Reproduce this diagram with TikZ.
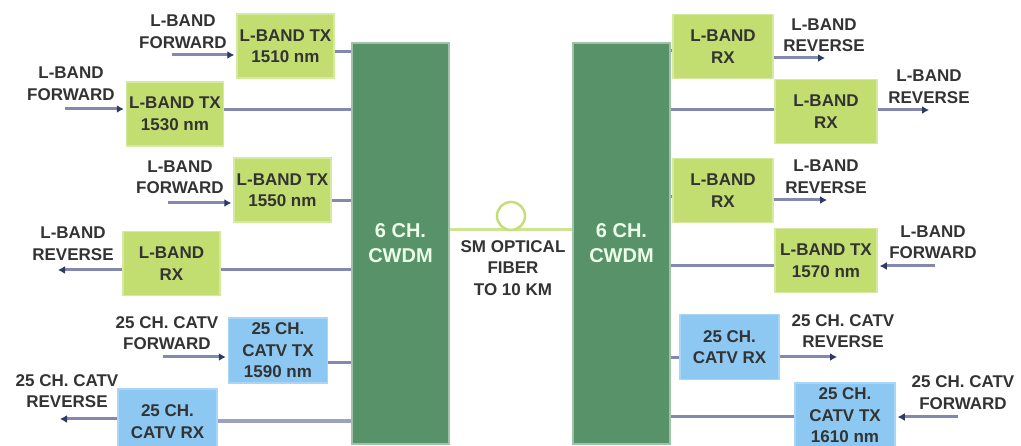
\documentclass[tikz,border=0pt]{standalone}
\usepackage{fontspec}
\setmainfont{Liberation Sans}
\usetikzlibrary{arrows.meta}
\definecolor{GreenBox}{HTML}{C2DE70}
\definecolor{GreenEdge}{HTML}{D6E9A0}
\definecolor{BlueBox}{HTML}{8CC8F2}
\definecolor{BlueEdge}{HTML}{A9D6F6}
\definecolor{CWDMfill}{HTML}{589268}
\definecolor{CWDMedge}{HTML}{9FC2A8}
\definecolor{LineCol}{HTML}{8488AE}
\definecolor{TipCol}{HTML}{2E3A66}
\definecolor{TextCol}{HTML}{333333}
\definecolor{FiberCol}{HTML}{CFE492}
\definecolor{RingCol}{HTML}{C4DF78}
\tikzset{
  txt/.style={font=\fontsize{17}{21.5}\selectfont\bfseries, text=TextCol, align=center, inner sep=0pt},
  gbox/.style={txt, draw=GreenEdge, fill=GreenBox, line width=1.5pt, minimum width=97pt, minimum height=64pt},
  bbox/.style={txt, draw=BlueEdge, fill=BlueBox, line width=1.5pt, minimum width=99pt, minimum height=65pt},
  cwdm/.style={draw=CWDMedge, fill=CWDMfill, line width=1.5pt, minimum width=97pt, minimum height=401pt,
    font=\fontsize{20}{25}\selectfont\bfseries, text=white!92!green, align=center, inner sep=0pt},
  lbl/.style={txt},
  wire/.style={draw=LineCol, line width=3pt},
  sig/.style={draw=LineCol, line width=3pt, -{Latex[length=7pt,width=8pt,color=TipCol]}, shorten >=2pt},
}
\begin{document}
\begin{tikzpicture}[x=1pt,y=-1pt]
\clip (0,0) rectangle (1021,446);
\fill[white] (0,0) rectangle (1021,446);

% CWDM blocks
\node[cwdm] (cwl) at (400.5,243.5) {6 CH.\\CWDM};
\node[cwdm] (cwr) at (621.5,243.5) {6 CH.\\CWDM};

% fiber
\draw[FiberCol, line width=3pt] (cwl.east |- 0,230) -- (cwr.west |- 0,230);
\node[circle, draw=RingCol, fill=white, line width=2.5pt, minimum size=28pt, inner sep=0pt] (ring) at (511,216) {};
\node[txt] (fib) at (513,268) {SM OPTICAL\\FIBER\\TO 10 KM};

% ---------------- left side ----------------
\node[gbox] (lt1) at (285.5,46) {L-BAND TX\\1510 nm};
\node[gbox] (lt2) at (175,114) {L-BAND TX\\1530 nm};
\node[gbox] (lt3) at (282.5,190) {L-BAND TX\\1550 nm};
\node[gbox] (lr1) at (171.5,263.5) {L-BAND\\RX};
\node[bbox] (lc1) at (278,350.5) {25 CH.\\CATV TX\\1590 nm};
\node[bbox] (lc2) at (167.5,421.5) {25 CH.\\CATV RX};

\node[lbl] (llt1) at (183,31.5) {L-BAND\\FORWARD};
\node[lbl] (llt2) at (71,83.5) {L-BAND\\FORWARD};
\node[lbl] (llt3) at (180,177) {L-BAND\\FORWARD};
\node[lbl] (llr1) at (73,243.5) {L-BAND\\REVERSE};
\node[lbl] (llc1) at (167,333) {25 CH. CATV\\FORWARD};
\node[lbl] (llc2) at (67,391) {25 CH. CATV\\REVERSE};

\draw[wire] (lt1.east |- 0,52) -- (cwl.west |- 0,52);
\draw[wire] (lt2.east |- 0,110) -- (cwl.west |- 0,110);
\draw[wire] (lt3.east |- 0,201) -- (cwl.west |- 0,201);
\draw[wire] (lr1.east |- 0,270) -- (cwl.west |- 0,270);
\draw[wire] (lc1.east |- 0,363) -- (cwl.west |- 0,363);
\draw[wire, line width=4pt, draw=LineCol!80!white] (lc2.east |- 0,421) -- (cwl.west |- 0,421);

\coordinate (ia1) at (172,55);
\coordinate (ia2) at (65,109);
\coordinate (ia3) at (168,203);
\coordinate (oa1) at (58,270);
\coordinate (ia4) at (163,357);
\coordinate (oa2) at (60,419);

\draw[sig] (ia1) -- (lt1.west |- ia1);
\draw[sig] (ia2) -- (lt2.west |- ia2);
\draw[sig] (ia3) -- (lt3.west |- ia3);
\draw[sig, shorten >=0pt] (lr1.west |- oa1) -- (oa1);
\draw[sig] (ia4) -- (lc1.west |- ia4);
\draw[sig, shorten >=0pt] (lc2.west |- oa2) -- (oa2);

% ---------------- right side ----------------
\node[gbox, minimum width=100pt] (rr1) at (723,46.5) {L-BAND\\RX};
\node[gbox, minimum width=102pt] (rr2) at (826,111.5) {L-BAND\\RX};
\node[gbox, minimum width=100pt] (rr3) at (723,190.5) {L-BAND\\RX};
\node[gbox, minimum width=102pt] (rt1) at (826,260.5) {L-BAND TX\\1570 nm};
\node[bbox] (rc1) at (729.5,347) {25 CH.\\CATV RX};
\node[bbox, minimum width=100pt] (rc2) at (845,415.5) {25 CH.\\CATV TX\\1610 nm};

\node[lbl] (lrr1) at (824,35) {L-BAND\\REVERSE};
\node[lbl] (lrr2) at (929,86.5) {L-BAND\\REVERSE};
\node[lbl] (lrr3) at (826,176.5) {L-BAND\\REVERSE};
\node[lbl] (lrt1) at (933,242) {L-BAND\\FORWARD};
\node[lbl] (lrc1) at (843,331) {25 CH. CATV\\REVERSE};
\node[lbl] (lrc2) at (963,392.5) {25 CH. CATV\\FORWARD};

\draw[wire] (cwr.east |- 0,51) -- (rr1.west |- 0,51);
\draw[wire] (cwr.east |- 0,110) -- (rr2.west |- 0,110);
\draw[wire] (cwr.east |- 0,197) -- (rr3.west |- 0,197);
\draw[wire] (cwr.east |- 0,266) -- (rt1.west |- 0,266);
\draw[wire] (cwr.east |- 0,358) -- (rc1.west |- 0,358);
\draw[wire] (cwr.east |- 0,417) -- (rc2.west |- 0,417);

\coordinate (ro1) at (825,58);
\coordinate (ro2) at (929,110);
\coordinate (ro3) at (827,200);
\coordinate (ri1) at (935,266);
\coordinate (ro4) at (837,357);
\coordinate (ri2) at (958,417);

\draw[sig, shorten >=0pt] (rr1.east |- ro1) -- (ro1);
\draw[sig, shorten >=0pt] (rr2.east |- ro2) -- (ro2);
\draw[sig, shorten >=0pt] (rr3.east |- ro3) -- (ro3);
\draw[sig] (ri1) -- (rt1.east |- ri1);
\draw[sig, shorten >=0pt] (rc1.east |- ro4) -- (ro4);
\draw[sig] (ri2) -- (rc2.east |- ri2);
\end{tikzpicture}
\end{document}
